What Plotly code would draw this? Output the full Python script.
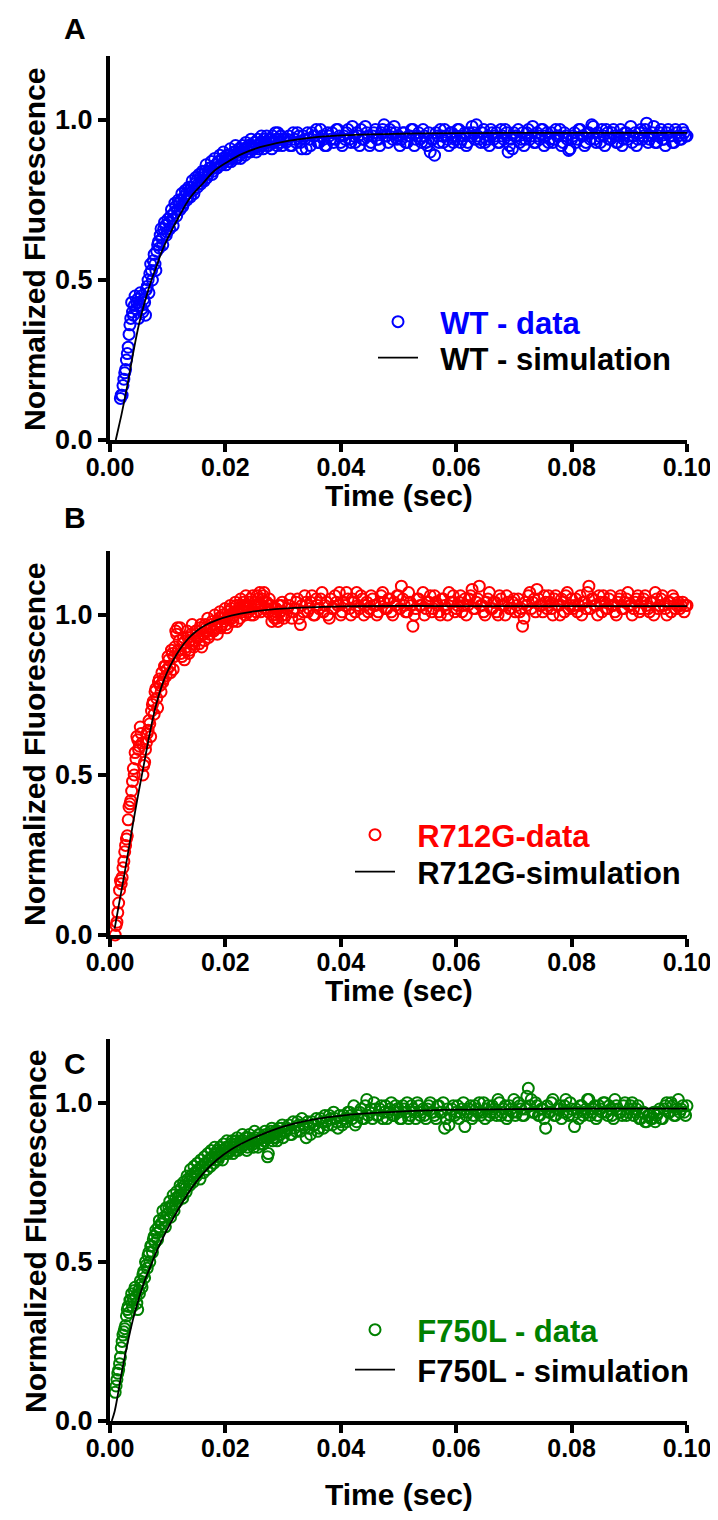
import numpy as np
import plotly.graph_objects as go

# ---------------- data ----------------
# Two interleaved readings per phase: "a" on the base grid, "b" half a step later.
early_dt = 0.0003
late_t0, late_dt = 0.0305, 0.0005

# WT (panel A)
wt_t0 = 0.0018
wt_early_a = [0.13,0.14,0.19,0.22,0.27,0.33,0.38,0.40,0.42,0.41,0.44,0.42,0.45,0.40,0.43,0.47,0.50,0.52,0.53,0.56,
              0.55,0.59,0.62,0.64,0.63,0.66,0.67,0.65,0.68,0.70,0.69,0.71,0.73,0.72,0.74,0.75,0.73,0.76,0.77,0.76,
              0.78,0.79,0.78,0.80,0.81,0.80,0.82,0.81,0.83,0.84,0.82,0.84,0.85,0.83,0.85,0.86,0.85,0.87,0.86,0.88,
              0.87,0.86,0.88,0.89,0.87,0.89,0.90,0.88,0.90,0.89,0.91,0.90,0.89,0.91,0.92,0.90,0.92,0.91,0.93,0.92,
              0.91,0.93,0.92,0.94,0.93,0.92,0.94,0.93,0.95,0.93,0.94,0.96,0.93,0.95,0.94]
wt_early_b = [0.14,0.17,0.21,0.25,0.29,0.36,0.43,0.39,0.45,0.43,0.38,0.46,0.41,0.44,0.39,0.48,0.46,0.55,0.50,0.58,
              0.53,0.61,0.60,0.66,0.61,0.68,0.64,0.69,0.66,0.72,0.67,0.74,0.70,0.75,0.72,0.77,0.74,0.78,0.75,0.79,
              0.76,0.81,0.77,0.82,0.79,0.83,0.80,0.84,0.81,0.86,0.83,0.85,0.87,0.84,0.88,0.85,0.87,0.89,0.86,0.90,
              0.88,0.89,0.87,0.91,0.88,0.90,0.92,0.89,0.91,0.88,0.92,0.91,0.93,0.90,0.92,0.94,0.91,0.93,0.90,0.94,
              0.92,0.95,0.91,0.93,0.95,0.92,0.94,0.91,0.93,0.96,0.92,0.94,0.95,0.92,0.94]
wt_late_a = [0.93,0.95,0.92,0.94,0.96,0.93,0.95,0.91,0.94,0.96,0.95,0.93,0.97,0.94,0.92,0.95,0.96,0.94,0.97,0.93,
             0.95,0.96,0.94,0.98,0.93,0.95,0.97,0.94,0.96,0.92,0.95,0.97,0.94,0.96,0.985,0.95,0.97,0.94,0.96,0.95,
             0.94,0.96,0.93,0.95,0.97,0.94,0.96,0.93,0.95,0.92,0.90,0.94,0.96,0.93,0.95,0.97,0.94,0.96,0.93,0.95,
             0.97,0.94,0.96,0.93,0.95,0.96,0.985,0.94,0.96,0.93,0.95,0.97,0.94,0.96,0.93,0.95,0.97,0.90,0.94,0.96,
             0.95,0.93,0.96,0.94,0.97,0.95,0.93,0.96,0.94,0.97,0.95,0.93,0.96,0.94,0.95,0.97,0.93,0.95,0.905,0.94,
             0.96,0.94,0.97,0.95,0.93,0.96,0.985,0.94,0.96,0.93,0.95,0.97,0.94,0.96,0.95,0.93,0.97,0.94,0.96,0.95,
             0.93,0.96,0.94,0.97,0.95,0.99,0.94,0.96,0.93,0.95,0.97,0.94,0.96,0.95,0.93,0.97,0.95,0.94,0.96,0.95]
wt_late_b = [0.94,0.92,0.96,0.93,0.95,0.91,0.94,0.96,0.92,0.95,0.97,0.93,0.95,0.92,0.96,0.94,0.93,0.97,0.95,0.92,
             0.94,0.97,0.93,0.95,0.96,0.92,0.94,0.98,0.95,0.93,0.96,0.94,0.92,0.97,0.95,0.93,0.96,0.98,0.94,0.92,
             0.96,0.93,0.95,0.97,0.92,0.95,0.94,0.97,0.93,0.96,0.94,0.89,0.95,0.97,0.93,0.95,0.92,0.96,0.94,0.97,
             0.93,0.95,0.92,0.96,0.98,0.94,0.95,0.93,0.97,0.94,0.92,0.96,0.95,0.93,0.97,0.94,0.96,0.92,0.91,0.95,
             0.97,0.94,0.92,0.96,0.94,0.98,0.93,0.95,0.97,0.92,0.96,0.94,0.93,0.97,0.95,0.92,0.96,0.94,0.91,0.95,
             0.93,0.97,0.95,0.92,0.96,0.94,0.98,0.93,0.95,0.97,0.92,0.96,0.94,0.97,0.93,0.95,0.92,0.96,0.94,0.98,
             0.95,0.92,0.96,0.94,0.97,0.93,0.95,0.98,0.93,0.96,0.94,0.92,0.97,0.95,0.93,0.96,0.94,0.97,0.95,0.93]
wt_sim_t = [0.0010,0.0015,0.002,0.003,0.004,0.005,0.006,0.007,0.008,0.009,0.010,0.012,0.014,0.016,0.018,
            0.020,0.023,0.026,0.030,0.035,0.040,0.050,0.060,0.080,0.100]
wt_sim_y = [0.00,0.04,0.08,0.17,0.27,0.36,0.43,0.49,0.54,0.59,0.63,0.70,0.76,0.80,0.84,
            0.865,0.895,0.915,0.932,0.945,0.952,0.957,0.959,0.960,0.960]

# R712G (panel B)
r7_t0 = 0.0009
r7_early_a = [0.00,0.04,0.10,0.17,0.18,0.23,0.28,0.31,0.40,0.42,0.48,0.50,0.55,0.61,0.59,0.63,0.50,0.54,0.60,0.64,
              0.66,0.70,0.73,0.76,0.74,0.79,0.78,0.82,0.80,0.84,0.83,0.86,0.82,0.88,0.87,0.95,0.96,0.92,0.88,0.91,
              0.86,0.90,0.93,0.89,0.94,0.91,0.92,0.95,0.93,0.96,0.90,0.94,0.97,0.95,0.93,0.96,0.98,0.95,0.97,0.94,
              0.99,0.96,1.00,0.98,0.97,1.01,0.99,1.02,0.98,1.00,1.03,1.01,0.99,1.02,1.04,1.00,1.03,1.01,1.05,1.02,
              1.00,1.04,1.06,1.03,1.01,1.05,1.07,1.04,1.02,1.05,1.03,1.00,0.99,1.02,0.98,1.01,1.03,1.00]
r7_early_b = [0.03,0.07,0.14,0.16,0.21,0.26,0.30,0.36,0.41,0.45,0.52,0.57,0.62,0.58,0.65,0.60,0.53,0.58,0.63,0.67,
              0.62,0.72,0.69,0.77,0.71,0.80,0.76,0.79,0.84,0.81,0.87,0.84,0.89,0.83,0.90,0.94,0.89,0.96,0.87,0.93,
              0.89,0.95,0.88,0.92,0.97,0.90,0.95,0.93,0.91,0.97,0.94,0.92,0.96,0.99,0.94,0.97,0.95,1.00,0.96,0.98,
              1.01,0.97,0.99,1.02,0.96,1.00,1.03,0.99,1.01,1.04,0.98,1.02,1.05,1.01,1.03,1.06,1.02,1.04,1.00,1.06,
              1.03,1.01,1.05,1.07,1.03,1.06,1.02,1.04,1.01,1.03,0.98,1.00,1.02,0.99,1.03,1.01,1.04,0.99]
r7_late_a = [1.00,1.03,0.99,1.02,1.05,0.97,1.01,1.04,1.02,1.06,1.00,1.03,1.05,1.01,1.04,0.99,1.02,1.06,1.03,1.00,
             1.04,1.07,1.02,1.05,1.01,1.03,1.06,1.00,1.04,1.02,1.05,1.03,1.01,1.06,1.04,1.02,1.05,1.00,1.03,1.06,
             1.09,1.03,1.01,1.04,0.965,1.02,1.05,1.03,1.00,1.04,1.06,1.02,1.04,1.01,1.05,1.03,1.00,1.04,1.06,1.02,
             1.04,1.01,1.05,1.03,1.06,1.02,1.04,1.09,1.03,1.00,1.05,1.02,1.04,1.01,1.06,1.03,1.00,1.04,1.02,1.05,
             1.03,1.01,0.965,1.04,1.06,1.02,1.05,1.08,1.03,1.01,1.04,1.06,1.02,1.05,1.03,1.00,1.04,1.06,1.02,1.05,
             1.03,1.01,1.06,1.04,1.02,1.09,1.05,1.03,1.00,1.04,1.06,1.02,1.05,1.03,1.01,1.04,1.06,1.02,1.05,1.03,
             1.00,1.04,1.06,1.02,1.05,1.03,1.01,1.04,1.07,1.02,1.05,1.03,1.00,1.04,1.06,1.02,1.04,1.03,1.01,1.03]
r7_late_b = [1.02,1.05,1.01,1.04,0.99,1.03,1.06,1.01,1.04,1.00,1.05,1.02,1.07,1.03,1.00,1.05,1.02,1.04,1.07,1.01,
             1.03,1.05,1.00,1.04,1.07,1.02,1.05,1.03,1.01,1.06,1.03,1.00,1.04,1.07,1.02,1.05,1.01,1.04,1.06,1.02,
             1.05,1.01,1.07,1.03,1.00,1.05,1.03,1.07,1.02,1.04,1.01,1.06,1.03,1.00,1.05,1.02,1.07,1.04,1.01,1.03,
             1.06,1.03,1.00,1.05,1.08,1.02,1.05,1.03,1.01,1.04,1.07,1.02,1.04,1.00,1.05,1.03,1.06,1.02,1.04,1.01,
             1.05,1.02,0.99,1.03,1.07,1.04,1.01,1.05,1.03,1.06,1.02,1.04,1.00,1.06,1.03,1.05,1.01,1.07,1.03,1.02,
             1.05,1.03,1.00,1.04,1.07,1.02,1.05,1.03,1.06,1.01,1.04,1.02,1.06,1.03,1.00,1.05,1.02,1.04,1.07,1.03,
             1.02,1.05,1.01,1.04,1.06,1.02,1.04,1.00,1.05,1.03,1.06,1.02,1.04,1.01,1.05,1.03,1.02,1.04,1.03,1.02]
r7_sim_t = [0.0008,0.0015,0.0025,0.004,0.005,0.006,0.007,0.008,0.009,0.010,0.011,0.012,0.0135,0.015,0.0165,
            0.0185,0.021,0.0245,0.030,0.040,0.060,0.100]
r7_sim_y = [0.02,0.09,0.19,0.35,0.45,0.545,0.64,0.72,0.78,0.825,0.86,0.89,0.925,0.95,0.968,
            0.984,0.998,1.01,1.02,1.027,1.028,1.028]

# F750L (panel C)
f7_t0 = 0.0009
f7_early_a = [0.09,0.13,0.16,0.20,0.25,0.28,0.30,0.35,0.34,0.38,0.36,0.41,0.39,0.35,0.40,0.43,0.46,0.45,0.49,0.52,
              0.50,0.55,0.57,0.56,0.59,0.61,0.60,0.62,0.64,0.61,0.65,0.67,0.64,0.68,0.66,0.70,0.69,0.71,0.73,0.70,
              0.74,0.72,0.76,0.74,0.77,0.75,0.78,0.77,0.79,0.76,0.80,0.78,0.81,0.79,0.82,0.80,0.83,0.81,0.82,0.85,
              0.83,0.84,0.82,0.85,0.86,0.84,0.85,0.87,0.84,0.86,0.88,0.85,0.87,0.86,0.88,0.87,0.85,0.89,0.87,0.88,
              0.86,0.89,0.88,0.90,0.87,0.89,0.88,0.90,0.83,0.89,0.91,0.88,0.90,0.89,0.91,0.90,0.92,0.89]
f7_early_b = [0.11,0.15,0.18,0.23,0.27,0.29,0.33,0.36,0.38,0.40,0.38,0.42,0.37,0.41,0.44,0.42,0.47,0.50,0.48,0.53,
              0.55,0.53,0.58,0.60,0.57,0.63,0.62,0.66,0.63,0.67,0.65,0.69,0.67,0.71,0.68,0.72,0.70,0.74,0.71,0.75,
              0.73,0.77,0.75,0.79,0.76,0.80,0.78,0.81,0.79,0.82,0.80,0.83,0.81,0.84,0.82,0.85,0.83,0.86,0.84,0.82,
              0.86,0.85,0.87,0.84,0.88,0.86,0.85,0.88,0.87,0.85,0.89,0.86,0.88,0.90,0.87,0.89,0.86,0.90,0.88,0.87,
              0.91,0.88,0.86,0.90,0.89,0.87,0.91,0.89,0.84,0.90,0.92,0.89,0.91,0.88,0.92,0.90,0.93,0.91]
f7_late_a = [0.91,0.93,0.90,0.92,0.94,0.91,0.93,0.89,0.92,0.94,0.93,0.91,0.95,0.92,0.94,0.96,0.93,0.95,0.92,0.94,
             0.96,0.94,0.97,0.95,0.93,0.96,0.98,0.95,1.01,0.97,0.95,0.98,0.96,0.99,0.97,0.95,0.98,0.96,0.99,0.97,
             0.95,0.98,1.00,0.96,0.98,0.95,0.99,0.97,0.96,0.98,1.00,0.97,0.95,0.99,0.97,0.92,0.98,0.96,0.99,0.97,
             0.95,0.98,0.925,0.97,0.99,0.96,0.98,1.00,0.97,0.95,0.99,0.97,0.98,0.96,1.00,0.97,0.99,0.96,0.98,1.01,
             0.97,0.99,0.96,0.98,1.045,1.01,0.97,0.99,0.96,0.98,0.92,0.97,1.00,0.96,0.98,0.99,0.97,1.01,0.96,0.98,
             0.925,0.97,0.99,0.96,0.98,1.01,0.97,0.99,0.96,0.98,1.00,0.97,0.99,0.96,1.01,0.98,0.97,0.99,0.96,0.98,
             1.00,0.97,0.99,0.95,0.97,0.94,0.96,0.95,0.94,0.97,0.95,0.98,1.00,0.97,0.99,0.96,1.01,0.98,0.97,0.99]
f7_late_b = [0.92,0.90,0.94,0.91,0.93,0.95,0.92,0.94,0.90,0.93,0.95,0.92,0.94,0.96,0.93,0.95,0.97,0.94,0.96,0.93,
             0.95,0.97,0.96,0.99,0.94,0.97,0.95,0.99,0.96,0.98,1.00,0.96,0.98,0.95,0.99,0.97,1.00,0.96,0.98,0.95,
             0.99,0.97,0.95,0.99,0.97,1.00,0.96,0.98,0.95,0.99,0.97,0.96,0.99,0.97,1.00,0.95,0.93,0.98,0.96,0.99,
             0.97,1.00,0.96,0.98,0.95,0.99,0.97,0.96,1.00,0.98,0.96,0.99,0.97,1.01,0.96,0.98,0.95,0.99,0.97,0.96,
             1.00,0.98,0.96,1.02,0.99,0.97,1.00,0.96,0.98,0.95,0.99,0.97,1.01,0.96,0.98,0.95,0.99,0.97,1.00,0.96,
             0.98,0.95,0.99,0.97,1.01,0.96,0.98,0.95,0.99,0.97,1.00,0.96,0.98,0.95,0.99,0.97,0.96,1.00,0.97,0.99,
             0.96,0.98,0.95,0.97,0.94,0.96,0.95,0.97,0.96,0.98,0.95,0.99,0.97,1.00,0.96,0.98,0.97,0.99,0.96,0.98]
f7_sim_t = [0.0003,0.0008,0.0012,0.002,0.003,0.004,0.005,0.006,0.007,0.008,0.010,0.012,0.014,0.016,0.0185,
            0.021,0.024,0.027,0.030,0.034,0.039,0.045,0.050,0.060,0.080,0.100]
f7_sim_y = [0.0,0.03,0.066,0.15,0.24,0.32,0.385,0.44,0.485,0.53,0.605,0.67,0.728,0.775,0.82,
            0.853,0.882,0.905,0.925,0.943,0.957,0.967,0.972,0.978,0.981,0.981]

x_ticks = [0.00, 0.02, 0.04, 0.06, 0.08, 0.10]
y_ticks = [0.0, 0.5, 1.0]

panels = [
    dict(data_label="WT - data", sim_label="WT - simulation", color="#0000ff", t0=wt_t0,
         ea=wt_early_a, eb=wt_early_b, la=wt_late_a, lb=wt_late_b, st=wt_sim_t, sy=wt_sim_y, letter="A"),
    dict(data_label="R712G-data", sim_label="R712G-simulation", color="#ff0000", t0=r7_t0,
         ea=r7_early_a, eb=r7_early_b, la=r7_late_a, lb=r7_late_b, st=r7_sim_t, sy=r7_sim_y, letter="B"),
    dict(data_label="F750L - data", sim_label="F750L - simulation", color="#008000", t0=f7_t0,
         ea=f7_early_a, eb=f7_early_b, la=f7_late_a, lb=f7_late_b, st=f7_sim_t, sy=f7_sim_y, letter="C"),
]

# ---------------- layout geometry (reference pixels; page body adds 8 px) ----------------
OFF = 8
W, H = 718 - OFF, 1520 - 2 * OFF   # fits the window without scrollbars
def fx(p):
    return (p - OFF) / W
def fy(p):
    return 1 - (p - OFF) / H
x_dom = [fx(110), fx(687)]
y_doms = [[fy(440), fy(56)], [fy(935), fy(551)], [fy(1421), fy(1039)]]
# legend symbol centre x, data row y, simulation row y
legend_rows = [(398, 322, 358), (375, 835, 872), (375, 1330, 1370)]
letter_pos = [(75, 28), (75, 517), (75, 1063)]
xtitle_y = [495, 990, 1494]
ytitle_c = [250, 745, 1232]

FONT = "Liberation Sans, Arial, sans-serif"
PAD = "\u00a0\u00a0"   # gap between legend symbol and label, as in the reference

def lname(j):
    return "legend" if j == 0 else f"legend{j + 1}"

fig = go.Figure()
for i, p in enumerate(panels):
    k = "" if i == 0 else str(i + 1)
    xa, ya = "x" + k, "y" + k
    ta = p["t0"] + early_dt * np.arange(len(p["ea"]))
    tb = p["t0"] + early_dt / 2 + early_dt * np.arange(len(p["eb"]))
    tla = late_t0 + late_dt * np.arange(len(p["la"]))
    tlb = late_t0 + late_dt / 2 + late_dt * np.arange(len(p["lb"]))
    t = np.concatenate([ta, tb, tla, tlb])
    y = list(p["ea"]) + list(p["eb"]) + list(p["la"]) + list(p["lb"])
    fig.add_trace(go.Scatter(
        x=t, y=y, mode="markers",
        name=f"{PAD}<span style='color:{p['color']}'>{p['data_label']}</span>",
        marker=dict(symbol="circle-open", size=11, color=p["color"], line=dict(width=2, color=p["color"])),
        xaxis=xa, yaxis=ya, legend=lname(2 * i), cliponaxis=False))
    fig.add_trace(go.Scatter(
        x=p["st"], y=p["sy"], mode="lines", name=PAD + p["sim_label"],
        line=dict(color="black", width=1.8, shape="spline"),
        xaxis=xa, yaxis=ya, legend=lname(2 * i + 1), cliponaxis=False))

    axcommon = dict(showline=True, linecolor="black", linewidth=4, ticks="outside", ticklen=8,
                    tickwidth=4, tickcolor="black", showgrid=False, zeroline=False, automargin=False)
    fig.layout["xaxis" + k] = dict(domain=x_dom, range=[0, 0.1], tickvals=x_ticks,
                                   tickformat=".2f", anchor=ya, ticklabelstandoff=-6,
                                   tickfont=dict(family=FONT, size=25, color="black", weight="bold"),
                                   **axcommon)
    fig.layout["yaxis" + k] = dict(domain=y_doms[i], range=[0, 1.2], tickvals=y_ticks,
                                   tickformat=".1f", anchor=xa,
                                   tickfont=dict(family=FONT, size=27, color="black", weight="bold"),
                                   **axcommon)
    sx, ry1, ry2 = legend_rows[i]
    for j, ry in ((2 * i, ry1), (2 * i + 1, ry2)):
        fig.layout[lname(j)] = dict(x=fx(sx - 25), y=fy(ry), xanchor="left", yanchor="middle",
                                    font=dict(family=FONT, size=31, color="black", weight="bold"),
                                    bgcolor="rgba(0,0,0,0)", itemwidth=40)
    fig.add_annotation(x=fx(letter_pos[i][0]), y=fy(letter_pos[i][1]), xref="paper", yref="paper",
                       xanchor="center", yanchor="middle", text=p["letter"], showarrow=False,
                       font=dict(family=FONT, size=30, color="black", weight="bold"))
    fig.add_annotation(x=fx((110 + 687) / 2), y=fy(xtitle_y[i]), xref="paper", yref="paper",
                       xanchor="center", yanchor="middle", text="Time (sec)", showarrow=False,
                       font=dict(family=FONT, size=30, color="black", weight="bold"))
    fig.add_annotation(x=fx(35), y=fy(ytitle_c[i]), xref="paper", yref="paper",
                       xanchor="center", yanchor="middle",
                       text="Normalized Fluorescence", showarrow=False, textangle=-90,
                       font=dict(family=FONT, size=30, color="black", weight="bold"))

fig.update_layout(width=W, height=H, margin=dict(l=0, r=0, t=0, b=0, autoexpand=False),
                  paper_bgcolor="white", plot_bgcolor="white", showlegend=True)
fig.write_html("out.html")
